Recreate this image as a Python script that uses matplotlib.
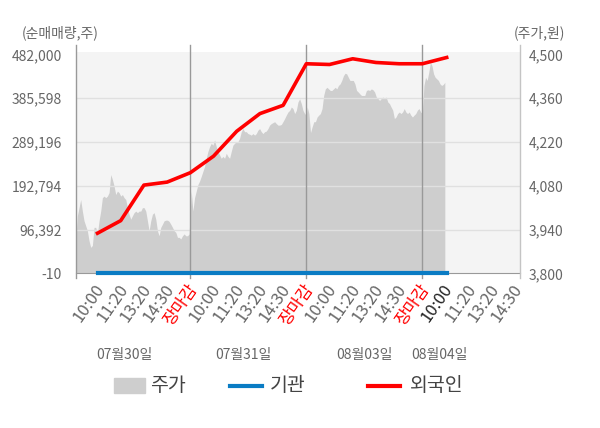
import matplotlib
matplotlib.use('Agg')
import matplotlib.pyplot as plt
import matplotlib.transforms as mtrans
import numpy as np
from matplotlib.patches import Rectangle
from matplotlib.lines import Line2D

plt.rcParams['font.family'] = ['Noto Sans CJK KR', 'DejaVu Sans']

price_d1 = [3894, 3984, 4010, 4036, 3999, 3968, 3952, 3936, 3904, 3883, 3889, 3947,
            3947, 3926, 3968, 3999, 4042, 4047, 4042, 4047, 4058, 4116, 4100, 4079,
            4052, 4063, 4058, 4047, 4052, 4042, 4036, 4010, 3989, 3973, 3984, 3994,
            3999, 3994, 3999, 3999, 4010, 4010, 3999, 3968, 3936, 3968, 3989, 3994,
            3973, 3936, 3920, 3947, 3957, 3968, 3970, 3970, 3966, 3957, 3947, 3936,
            3931, 3915, 3915, 3910, 3920, 3926, 3920, 3920, 3926]
price_d2 = [4063, 3999, 4042, 4063, 4084, 4095, 4110, 4126, 4142, 4168, 4190, 4205,
            4216, 4210, 4227, 4205, 4190, 4179, 4168, 4174, 4168, 4184, 4174, 4168,
            4190, 4210, 4216, 4221, 4221, 4232, 4253, 4263, 4253, 4253, 4247, 4245,
            4242, 4247, 4242, 4247, 4258, 4263, 4253, 4247, 4253, 4255, 4263, 4274,
            4279, 4282, 4285, 4279, 4274, 4274, 4276, 4285, 4295, 4306, 4316, 4321,
            4332, 4327, 4311, 4321, 4348, 4358, 4343, 4321, 4311, 4306]
price_d3 = [4332, 4311, 4250, 4269, 4285, 4285, 4300, 4306, 4311, 4327, 4369, 4390,
            4395, 4390, 4385, 4385, 4390, 4395, 4390, 4401, 4406, 4417, 4432, 4440,
            4438, 4427, 4417, 4417, 4417, 4406, 4385, 4380, 4374, 4369, 4369, 4369,
            4385, 4387, 4385, 4390, 4387, 4380, 4364, 4359, 4353, 4359, 4364, 4359,
            4364, 4348, 4343, 4332, 4322, 4295, 4300, 4311, 4316, 4311, 4316, 4327,
            4316, 4311, 4316, 4306, 4300, 4306, 4311, 4322, 4327, 4316, 4311]
price_d4 = [4401, 4427, 4417, 4443, 4475, 4464, 4438, 4427, 4422, 4417, 4406, 4401,
            4404, 4411]
# where each day's samples sit on the time axis (5 slots per day)
day_spans = [(0.06, 4.95), (5.04, 10.0), (10.04, 15.0), (15.07, 15.97)]

# cumulative net buying (shares), one point per time slot
flow_x = [1, 2, 3, 4, 5, 6, 7, 8, 9, 10, 11, 12, 13, 14, 15, 16.05]
foreign = [88300, 116000, 194300, 200900, 221600, 258000, 312900, 351800, 370000,
           461600, 460000, 472600, 464400, 461600, 461600, 475400]
institution = [0] * 16

tick_labels = ['10:00', '11:20', '13:20', '14:30', '장마감'] * 3 + \
              ['10:00', '11:20', '13:20', '14:30']
day_labels = ['07월30일', '07월31일', '08월03일', '08월04일']
day_label_x = [2.15, 7.3, 12.5, 15.75]

flow_ticks = [-10, 96392, 192794, 289196, 385598, 482000]
price_ticks = [3800, 3940, 4080, 4220, 4360, 4500]

grey = '#666666'

fig = plt.figure(figsize=(6, 4.28), dpi=100)
ax = fig.add_axes([75.7 / 600, 1 - 273.3 / 428, (520 - 75.7) / 600, (273.3 - 45) / 428])
ax2 = ax.twinx()

x0, x1 = 0.06, 19.21
ax.set_xlim(x0, x1)
ax.set_ylim(3800, 4530.4)
ax2.set_ylim(-10, 502930)

# price area
px = np.concatenate([np.linspace(a, b, len(d)) for (a, b), d in
                     zip(day_spans, [price_d1, price_d2, price_d3, price_d4])])
py = np.concatenate([price_d1, price_d2, price_d3, price_d4])
ax.axhspan(3800, 4508, color='#f4f4f4', lw=0, zorder=0)
ax.fill_between(px, py, 3800, color='#cecece', lw=0, zorder=2)
for v in price_ticks[1:-1]:
    ax.axhline(v, color='#e0e0e0', lw=1, zorder=3)

# day separators and side lines
for s in [x0, 5, 10, 15]:
    ax.axvline(s, ymin=-0.022, ymax=1, color='#999999', lw=1, clip_on=False, zorder=4)
ax.axvline(x1, ymin=-0.022, ymax=1, color='#c4c4c4', lw=1, clip_on=False, zorder=4)

for a in (ax, ax2):
    for sp in ['top', 'left', 'right']:
        a.spines[sp].set_visible(False)
ax.spines['bottom'].set_color('#999999')
ax2.spines['bottom'].set_visible(False)

ax.yaxis.tick_right()
ax.set_yticks(price_ticks)
ax.set_yticklabels([f'{v:,}' for v in price_ticks])
ax.tick_params(axis='y', length=0, pad=6, labelsize=10, labelcolor=grey)

ax2.yaxis.tick_left()
ax2.set_yticks(flow_ticks)
ax2.set_yticklabels([f'{v:,}' for v in flow_ticks])
ax2.tick_params(axis='y', length=0, pad=10, labelsize=10, labelcolor=grey)

ax.set_xticks(range(1, 20))
ax.set_xticklabels(tick_labels, rotation=55, ha='right', va='center',
                   rotation_mode='anchor')
ax.tick_params(axis='x', length=0, pad=9, labelsize=12)
shift = mtrans.ScaledTranslation(4 / 100, 0, fig.dpi_scale_trans)
for i, t in enumerate(ax.get_xticklabels()):
    t.set_transform(t.get_transform() + shift)
    if tick_labels[i] == '장마감':
        t.set_color('#ff0000')
    elif i == 15:
        t.set_color('#222222')
    else:
        t.set_color(grey)

# flows
ax2.plot(flow_x, foreign, color='#ff0000', lw=2.6, zorder=5)
ax2.plot(flow_x, institution, color='#0a7cc4', lw=3, zorder=5, clip_on=False)

for x, s in zip(day_label_x, day_labels):
    ax.text(x, -0.358, s, transform=ax.get_xaxis_transform(), ha='center',
            va='center', fontsize=10, color=grey)

fig.text(22 / 600, 1 - 33 / 428, '(순매매량,주)', ha='left', va='center',
         fontsize=10, color=grey)
fig.text(565 / 600, 1 - 33 / 428, '(주가,원)', ha='right', va='center',
         fontsize=10, color=grey)

# legend
ly = 1 - 385.5 / 428
fig.add_artist(Rectangle((114 / 600, 1 - 393 / 428), 31 / 600, 15 / 428,
                         color='#cecece', transform=fig.transFigure))
fig.add_artist(Line2D([230 / 600, 262 / 600], [ly, ly], color='#0a7cc4', lw=3,
                      transform=fig.transFigure))
fig.add_artist(Line2D([368 / 600, 400 / 600], [ly, ly], color='#ff0000', lw=3,
                      transform=fig.transFigure))
for x, s in [(150, '주가'), (270, '기관'), (410, '외국인')]:
    fig.text(x / 600, ly, s, ha='left', va='center', fontsize=14, color='#444444')

fig.savefig('out.png', dpi=100)
